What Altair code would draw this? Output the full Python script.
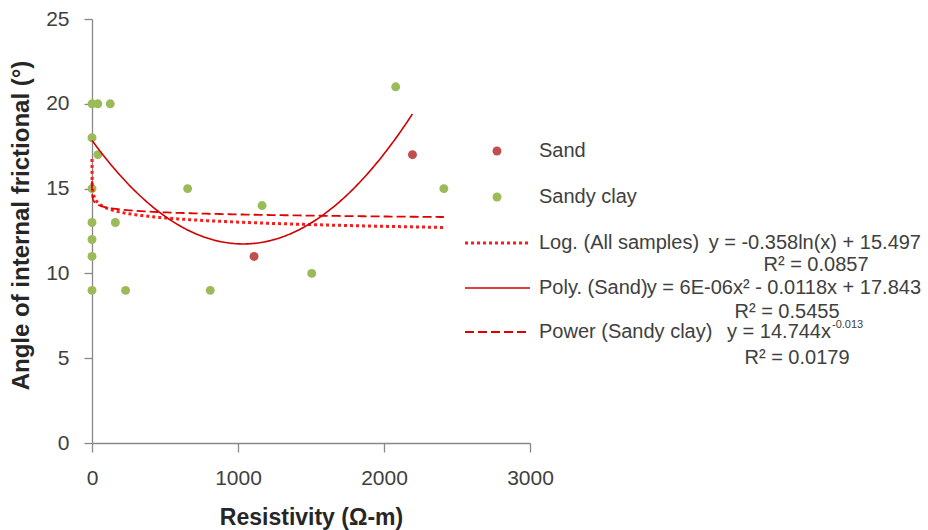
import altair as alt
import numpy as np
import pandas as pd

FONT = "Liberation Sans"

# ---- data ----
sand_x = [1110, 2195]
sand_y = [11, 17]
clay_x = [0, 40, 125, 0, 40, 0, 0, 160, 0, 0, 0, 230, 655, 810, 1165, 1505, 2080, 2410]
clay_y = [20, 20, 20, 18, 17, 15, 13, 13, 12, 11, 9, 9, 15, 9, 14, 10, 21, 15]

series_names = ["Sand", "Sandy clay"]
series_colors = ["#C0504D", "#9BBB59"]

# trendline coefficients (as printed on the chart, poly "a" unrounded)
log_a, log_b = -0.358, 15.497
poly_a, poly_b, poly_c = 5.7e-6, -0.0118, 17.843
pow_a, pow_b = 14.744, -0.013
log_range = [0.03, 2410]
poly_range = [0, 2195]
pow_range = [0.03, 2410]

trend_labels = ["Log. (All samples)", "Poly. (Sand)", "Power (Sandy clay)"]
trend_eqs = ["y = -0.358ln(x) + 15.497", "y = 6E-06x² - 0.0118x + 17.843", "y = 14.744x"]
trend_eq_sup = ["", "", "-0.013"]
trend_r2 = ["R² = 0.0857", "R² = 0.5455", "R² = 0.0179"]
trend_colors = ["#FF1A1A", "#D00000", "#E00000"]

x_ticks = [0, 1000, 2000, 3000]
y_ticks = [0, 5, 10, 15, 20, 25]

# ---- tables ----
points = pd.DataFrame({
    "x": sand_x + clay_x,
    "y": sand_y + clay_y,
    "series": ["Sand"] * len(sand_x) + ["Sandy clay"] * len(clay_x),
})

def grid(lo, hi):
    if lo <= 0:
        return np.linspace(lo, hi, 200)
    return np.unique(np.concatenate([np.geomspace(lo, 60, 60), np.linspace(60, hi, 160)]))

gx = grid(*log_range)
log_df = pd.DataFrame({"x": gx, "y": log_a * np.log(gx) + log_b})
gx = grid(*poly_range)
poly_df = pd.DataFrame({"x": gx, "y": poly_a * gx**2 + poly_b * gx + poly_c})
gx = grid(*pow_range)
pow_df = pd.DataFrame({"x": gx, "y": pow_a * gx**pow_b})

xs = alt.Scale(domain=[0, 3000], nice=False, zero=False)
ys = alt.Scale(domain=[0, 25], nice=False)

base_points = alt.Chart(points).mark_circle(size=80, opacity=1).encode(
    x=alt.X("x:Q", scale=xs, axis=alt.Axis(
        values=x_ticks, format="d", tickSize=9, labelPadding=15, labelFlush=False,
        title="Resistivity (Ω-m)", titleY=74, titleBaseline="middle", titleFontSize=23)),
    y=alt.Y("y:Q", scale=ys, axis=alt.Axis(
        values=y_ticks, format="d", tickSize=8, labelPadding=15, labelFlush=False,
        title="Angle of internal frictional (°)", titleX=-71, titleY=206,
        titleAngle=270, titleAlign="center", titleBaseline="middle", titleFontSize=24)),
    color=alt.Color("series:N", scale=alt.Scale(domain=series_names, range=series_colors), legend=None),
)

dash_styles = [
    dict(strokeDash=[3, 3], strokeWidth=3),
    dict(strokeWidth=1.6),
    dict(strokeDash=[9, 4], strokeWidth=1.8),
]

trend_layers = []
for df, st, col in zip([log_df, poly_df, pow_df], dash_styles, trend_colors):
    trend_layers.append(
        alt.Chart(df).mark_line(color=col, strokeCap="butt", **st).encode(
            x=alt.X("x:Q", scale=xs), y=alt.Y("y:Q", scale=ys))
    )

# ---- legend (layout positions in pixels of the plot area) ----
one = pd.DataFrame({"d": [0]})
TXT = dict(font=FONT, fontSize=20, color="#404040", baseline="middle")
leg_layers = []
dot_y = [132, 178]
for name, col, yy in zip(series_names, series_colors, dot_y):
    leg_layers.append(alt.Chart(one).mark_circle(size=80, opacity=1, color=col).encode(
        x=alt.value(405), y=alt.value(yy)))
    leg_layers.append(alt.Chart(one).mark_text(text=name, align="left", **TXT).encode(
        x=alt.value(447), y=alt.value(yy)))

line_y = [224, 269, 313]
eq_x = [616, 570, 635]
r2_cx = [724, 695, 705]
r2_y = [246, 293, 339]
for i in range(3):
    leg_layers.append(alt.Chart(one).mark_rule(color=trend_colors[i], strokeCap="butt", **dash_styles[i]).encode(
        x=alt.value(373), x2=alt.value(438), y=alt.value(line_y[i])))
    leg_layers.append(alt.Chart(one).mark_text(text=trend_labels[i], align="left", **TXT).encode(
        x=alt.value(447), y=alt.value(line_y[i])))
    leg_layers.append(alt.Chart(one).mark_text(text=trend_eqs[i], align="right", **TXT).encode(
        x=alt.value(829 if i < 2 else 739), y=alt.value(line_y[i])))
    if trend_eq_sup[i]:
        leg_layers.append(alt.Chart(one).mark_text(
            text=trend_eq_sup[i], align="left", baseline="middle", font=FONT, fontSize=11, color="#404040").encode(
            x=alt.value(740), y=alt.value(line_y[i] - 7)))
    leg_layers.append(alt.Chart(one).mark_text(text=trend_r2[i], align="center", **TXT).encode(
        x=alt.value(r2_cx[i]), y=alt.value(r2_y[i])))

chart = alt.layer(base_points, *trend_layers, *leg_layers).properties(
    width=438, height=424,
    autosize=alt.AutoSizeParams(type="none"),
    padding={"left": 92, "top": 19, "right": 398, "bottom": 87},
).configure_axis(
    grid=False, domainColor="#898989", tickColor="#898989", domainWidth=1.3, tickWidth=1.3,
    labelFont=FONT, labelFontSize=21, labelColor="#404040",
    titleFont=FONT, titleFontWeight="bold", titleColor="#262626",
).configure_view(stroke=None)

chart.save("out.html", embed_options={"renderer": "svg", "actions": False})
